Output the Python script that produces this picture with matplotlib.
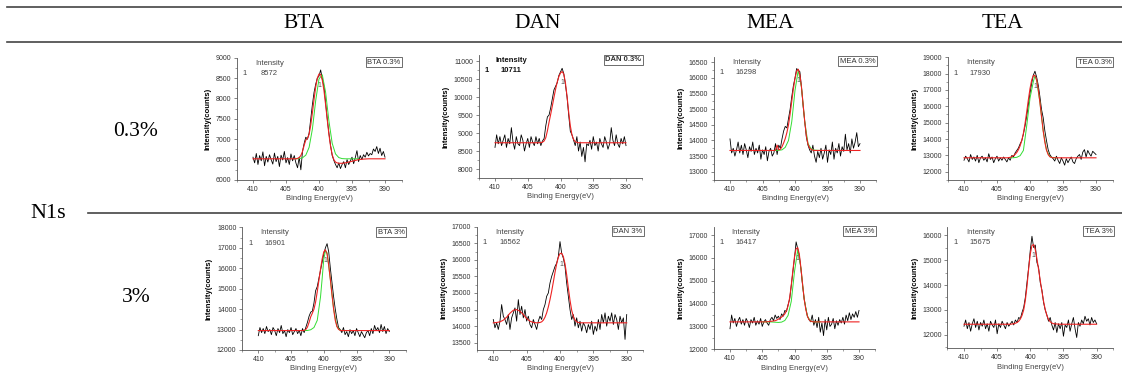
import numpy as np
import matplotlib
matplotlib.use('Agg')
import matplotlib.pyplot as plt
from matplotlib.lines import Line2D
from matplotlib.ticker import MultipleLocator

plt.rcParams['font.family'] = ['Liberation Sans', 'DejaVu Sans']

# table headings
materials = ['BTA', 'DAN', 'MEA', 'TEA']
concentrations = ['0.3%', '3%']
element = 'N1s'
peak_intensity = ['8572', '10711', '16298', '17930', '16901', '16562', '16417', '15675']

# binding energy grids (eV)
raw_x = np.linspace(410, 390, 81)
fit_x = np.concatenate([np.linspace(410, 403.5, 14),
                        np.linspace(403.25, 396.75, 27),
                        np.linspace(396.5, 390, 14)])

# ---- raw counts ----
bta03_raw = [6560, 6420, 6650, 6380, 6600, 6470, 6690, 6350, 6580, 6440, 6620, 6500, 6390, 6660, 6450, 6580, 6330, 6610, 6490, 6700, 6420, 6550, 6380, 6640, 6470,
             6600, 6420, 6300, 6560, 6250, 6700, 6900, 7050, 7000, 7150, 7500, 7850, 8150, 8350, 8500, 8550,
             8700, 8480, 8300, 7900, 7500, 7150, 6850, 6600, 6480, 6380, 6300, 6420, 6280, 6380, 6450, 6300,
             6500, 6380, 6470, 6560, 6400, 6550, 6720, 6450, 6600, 6500, 6620, 6560, 6680, 6590, 6650, 6620, 6760, 6700, 6820, 6650, 6780, 6600, 6700, 6560]
dan03_raw = [8600, 8950, 8700, 8900, 8650, 8800, 8950, 8600, 8850, 8700, 9150, 8750, 8550, 8900, 8700, 8650, 8950, 8800, 8500, 8700, 8850, 8600, 8900, 8750, 8650,
             8900, 8700, 8850, 8650, 8780, 8850, 9200, 9450, 9500, 9700, 9950, 10200, 10300, 10400, 10600, 10700,
             10800, 10650, 10350, 10000, 9500, 9050, 8950, 8800, 8650, 8900, 8500, 8750, 8350, 8600, 8200, 8700,
             8650, 8800, 8550, 8900, 8650, 8750, 8500, 8850, 8700, 8600, 8900, 8750, 8550, 8700, 9150, 8800, 8650, 8950, 8700, 8600, 8850, 8700, 8900, 8650]
mea03_raw = [14050, 13600, 13750, 13500, 13700, 13950, 13600, 13850, 13550, 13900, 13700, 13450, 13800, 13650, 13950, 13550, 13750, 13600, 13850, 13400, 13700, 13550, 13800, 13350, 13650,
             13750, 13500, 13600, 13900, 13550, 13850, 13750, 14050, 14300, 14450, 14400, 14700, 15000, 15400, 15750, 16000,
             16300, 16250, 16200, 15700, 15100, 14600, 14100, 13850, 13700, 13600, 13850, 13500, 13300, 13650, 13450, 13750,
             13400, 13600, 13850, 13300, 13700, 13550, 13950, 13400, 13750, 13600, 13900, 13500, 13800, 13650, 14200, 13700, 13900, 13600, 14050, 13750, 13950, 14250, 13800, 13900]
tea03_raw = [12700, 12950, 12800, 12600, 13050, 12750, 12900, 12650, 13000, 12550, 12850, 12950, 12700, 12850, 12600, 13100, 12750, 12900, 12550, 12800, 12950, 12650, 12850, 12700, 12900,
             12750, 12600, 12850, 12700, 13000, 12900, 13150, 13300, 13450, 13700, 13900, 14300, 14800, 15400, 16100, 16800,
             17400, 17900, 18150, 17800, 17300, 16600, 15800, 15300, 14500, 13900, 13350, 13050, 12900, 12800, 12650, 12950,
             12700, 12500, 12850, 12650, 12400, 12800, 12550, 12750, 12900, 12600, 12500, 12800, 12950, 13050, 12750, 13200, 13350, 12900, 13300, 13100, 12950, 13250, 13150, 13050]
bta3_raw = [12700, 13100, 12850, 13050, 12800, 13150, 12900, 13000, 12750, 13100, 12950, 12700, 13050, 12850, 13200, 12800, 12950, 12650, 13000, 12850, 13100, 12750, 12900, 13050, 12800,
            12950, 12700, 13050, 12850, 13100, 13350, 13650, 13850, 13900, 14300, 14900, 15100, 15500, 15900, 16300, 16700,
            17000, 17200, 16800, 16000, 15300, 14600, 14000, 13500, 13100, 13000, 12850, 13100, 12750, 12900, 12650, 13000,
            12800, 12950, 12700, 13050, 12850, 12650, 12900, 12750, 12600, 12850, 12950, 12700, 13050, 12800, 13200, 12950, 13100, 12850, 13250, 12900, 13150, 12800, 13050, 12900]
dan3_raw = [14200, 13950, 14100, 13900, 14150, 14650, 14300, 14200, 14050, 14350, 13900, 14250, 14400, 14550, 14150, 14800, 14350, 14600, 14250, 14500, 14150, 14300, 14050, 13950, 14200,
            14050, 13900, 14150, 14300, 14200, 14500, 14650, 14900, 15000, 15300, 15500, 15650, 15800, 15900, 16100, 16550,
            16200, 16050, 15800, 15300, 14900, 14500, 14200, 14350, 14000, 14250, 13950, 14150, 13850, 14100, 14000, 13800,
            14050, 13900, 14150, 13750, 14000, 13850, 14200, 13900, 14350, 14100, 14400, 14000, 14300, 14150, 14400, 14050, 14350, 14200, 13900, 14300, 14100, 14250, 13600, 14350]
mea3_raw = [12900, 13500, 13150, 13350, 13000, 13250, 13400, 13100, 13300, 13050, 13350, 13200, 12950, 13300, 13150, 13400, 13050, 13250, 13100, 13350, 13000, 13200, 13300, 13150, 13050,
            13300, 13400, 13250, 13500, 13350, 13450, 13300, 13550, 13450, 13700, 13650, 13950, 14200, 14800, 15400, 16000,
            16700, 16400, 16100, 15500, 14800, 14200, 13800, 13450, 13300, 13200, 13500, 13050, 13300, 12950, 13400, 12750,
            13150, 12600, 13300, 12850, 13400, 13000, 13100, 13350, 12900, 13250, 13050, 13300, 13150, 13400, 13100, 13500, 13250, 13600, 13300, 13550, 13400, 13650, 13400, 13700]
tea3_raw = [12350, 12600, 12250, 12500, 12150, 12450, 12650, 12300, 12550, 12200, 12500, 12350, 12600, 12250, 12450, 12150, 12550, 12400, 12300, 12600, 12050, 12450, 12300, 12550, 12400,
            12250, 12500, 12350, 12450, 12550, 12400, 12600, 12500, 12700, 12650, 12900, 13100, 13500, 14100, 14700, 15400,
            15950, 15500, 15600, 14900, 14700, 14100, 13800, 13300, 13000, 12800, 12550, 12700, 12400, 12200, 12500, 12100,
            12450, 12250, 12500, 11950, 12400, 12300, 12600, 12150, 12450, 12700, 12250, 11900, 12500, 12350, 12600, 12450, 12750, 12550, 12650, 12400, 12700, 12500, 12600, 12450]

# ---- cumulative fit (red), on fit_x ----
bta03_fit = [6520] * 14 + [6530, 6550, 6600, 6700, 6850, 6980, 7020, 7120, 7350, 7650, 7980, 8280, 8500, 8600, 8590, 8450, 8200, 7850, 7480, 7120, 6830, 6620, 6500, 6440, 6420, 6410, 6410] + \
            [6410, 6420, 6440, 6460, 6480, 6500, 6510, 6515, 6520, 6520, 6520, 6520, 6520, 6520]
dan03_fit = [8730] * 14 + [8730, 8735, 8745, 8780, 8870, 9060, 9300, 9520, 9750, 9990, 10220, 10420, 10570, 10670, 10710, 10640, 10400, 10020, 9580, 9200, 8950, 8820, 8760, 8740, 8730, 8730, 8730] + [8730] * 14
mea03_fit = [13680] * 14 + [13680, 13690, 13850, 13700, 13720, 13800, 13920, 14060, 14250, 14500, 14850, 15250, 15650, 15980, 16220, 16280, 16100, 15700, 15150, 14600, 14150, 13880, 13760, 13710, 13690, 13680, 13680] + [13680] * 14
tea03_fit = [12850] * 14 + [12860, 12880, 12920, 12980, 13060, 13180, 13350, 13580, 13900, 14350, 14950, 15650, 16400, 17080, 17600, 17880, 17900, 17620, 17050, 16250, 15350, 14500, 13800, 13320, 13050, 12920, 12870] + [12855] + [12850] * 13
bta3_fit = [12950] * 14 + [12950, 12960, 13000, 13120, 13350, 13620, 13800, 14000, 14350, 14850, 15400, 15950, 16450, 16800, 16900, 16700, 16150, 15450, 14700, 14000, 13450, 13150, 13010, 12960, 12950, 12950, 12950] + [12950] * 14
dan3_fit = [14100, 14110, 14130, 14180, 14270, 14390, 14480, 14500, 14450, 14350, 14230, 14150, 14110, 14100] + \
           [14105, 14110, 14130, 14180, 14270, 14400, 14580, 14800, 15050, 15330, 15620, 15880, 16080, 16190, 16200, 16100, 15880, 15550, 15150, 14780, 14480, 14290, 14180, 14130, 14110, 14100, 14100] + [14100] * 14
mea3_fit = [13200] * 12 + [13210, 13230] + [13240, 13250, 13280, 13320, 13360, 13410, 13470, 13550, 13680, 13900, 14250, 14800, 15450, 16050, 16400, 16450, 16150, 15550, 14850, 14200, 13750, 13450, 13300, 13230, 13210, 13200, 13200] + [13200] * 14
tea3_fit = [12430] * 14 + [12430, 12430, 12440, 12450, 12470, 12500, 12550, 12640, 12780, 13000, 13380, 13950, 14650, 15250, 15580, 15620, 15420, 15050, 14620, 14180, 13750, 13350, 13020, 12780, 12620, 12530, 12480] + [12450, 12440] + [12430] * 12

# ---- single N1s component (green), where it shows ----
bta03_comp_x = [403.5, 403, 402.5, 402, 401.5, 401, 400.5, 400, 399.5, 399, 398.5, 398, 397.5, 397, 396.5, 396, 395, 394]
bta03_comp = [6520, 6525, 6545, 6610, 6800, 7250, 7950, 8480, 8580, 8150, 7450, 6900, 6640, 6550, 6525, 6520, 6520, 6520]
mea03_comp_x = [403.5, 403, 402.5, 402, 401.5, 401, 400.5, 400, 399.5, 399, 398.5, 398, 397.5, 397, 396]
mea03_comp = [13680, 13680, 13685, 13700, 13780, 14000, 14600, 15600, 16250, 15700, 14600, 13900, 13730, 13690, 13680]
tea03_comp_x = [403, 402.5, 402, 401.5, 401, 400.5, 400, 399.5, 399.25, 399, 398.5, 398, 397.5, 397, 396.5, 396]
tea03_comp = [12850, 12855, 12880, 12980, 13300, 14800, 16500, 17500, 17880, 17600, 16250, 14500, 13320, 12920, 12860, 12850]
bta3_comp_x = [403, 402.5, 402, 401.5, 401, 400.5, 400.25, 400, 399.75, 399.5, 399, 398.5, 398, 397.5, 397, 396]
bta3_comp = [12950, 12955, 12990, 13100, 13450, 14600, 15500, 16450, 16850, 16750, 15450, 14000, 13150, 12960, 12950, 12950]
mea3_comp_x = [405, 404, 403.5, 403, 402.5, 402, 401.5, 401, 400.5, 400, 399.5, 399, 398.5, 398, 397.5, 397, 396]
mea3_comp = [13200, 13200, 13195, 13185, 13175, 13190, 13260, 13480, 14100, 15400, 16350, 15550, 14200, 13450, 13230, 13200, 13200]

raws = [bta03_raw, dan03_raw, mea03_raw, tea03_raw, bta3_raw, dan3_raw, mea3_raw, tea3_raw]
fits = [bta03_fit, dan03_fit, mea03_fit, tea03_fit, bta3_fit, dan3_fit, mea3_fit, tea3_fit]
comps = [(bta03_comp_x, bta03_comp), None, (mea03_comp_x, mea03_comp), (tea03_comp_x, tea03_comp),
         (bta3_comp_x, bta3_comp), None, (mea3_comp_x, mea3_comp), None]
y_ranges = [(6000, 9000), (7750, 11170), (12735, 16680), (11492, 19000),
            (12000, 18000), (13280, 17000), (12000, 17365), (11467, 16333)]
y_steps = [500, 500, 500, 1000, 1000, 500, 1000, 1000]
y_first = [6000, 8000, 13000, 12000, 12000, 13500, 12000, 12000]

# layout in pixels: x of the 410 tick, px per eV, bottom and top of y-axis
layout = [(253, 6.6, 180, 57.7), (495, 6.55, 178, 55), (730, 6.5, 180, 56.7), (964, 6.6, 180, 57.3),
          (258.3, 6.55, 350, 227.3), (493.3, 6.67, 350, 226.7), (730, 6.45, 349.3, 226.7), (964, 6.63, 348.3, 226.7)]

W, H = 1122, 380
fig = plt.figure(figsize=(W / 100, H / 100), dpi=100)

# table rules
for x0, y in [(7, 7), (7, 42), (88, 212.7)]:
    fig.add_artist(Line2D([x0 / W, 1], [1 - y / H] * 2, transform=fig.transFigure, color='#444', lw=1.2))

serif = ['Liberation Serif', 'DejaVu Serif']
for name, xc in zip(materials, [304, 538, 770, 1003]):
    fig.text(xc / W, 1 - 23 / H, name, fontsize=15.5, family=serif, ha='center', va='center')
for lab, yc in zip(concentrations, [131, 297]):
    fig.text(136 / W, 1 - yc / H, lab, fontsize=15.5, family=serif, ha='center', va='center')
fig.text(48 / W, 1 - 214 / H, element, fontsize=16, family=serif, ha='center', va='center')

for i in range(8):
    x410, ppe, yb, yt = layout[i]
    left = x410 - 2.5 * ppe
    ax = fig.add_axes([left / W, 1 - yb / H, 25 * ppe / W, (yb - yt) / H])
    ax.plot(raw_x, raws[i], color='black', lw=0.6)
    if comps[i] is not None:
        ax.plot(comps[i][0], comps[i][1], color='#33dd33', lw=0.7)
    ax.plot(fit_x, fits[i], color='#ee2222', lw=0.8)
    ax.set_xlim(412.5, 387.5)
    ax.set_ylim(*y_ranges[i])
    ax.set_xticks([410, 405, 400, 395, 390])
    ax.xaxis.set_minor_locator(MultipleLocator(2.5))
    yt_vals = np.arange(y_first[i], y_ranges[i][1] + 1, y_steps[i])
    ax.set_yticks(yt_vals)
    ax.yaxis.set_minor_locator(MultipleLocator(y_steps[i] / 2))
    for s in ['top', 'right']:
        ax.spines[s].set_visible(False)
    for s in ['left', 'bottom']:
        ax.spines[s].set_color('#555')
        ax.spines[s].set_linewidth(0.6)
    ax.tick_params(which='major', direction='out', length=2.5, width=0.5, color='#555',
                   labelsize=5, labelcolor='#333', pad=1.5)
    ax.tick_params(which='minor', direction='out', length=1.5, width=0.4, color='#555')
    ax.set_xlabel('Binding Energy(eV)', fontsize=5.5, color='#444', labelpad=2)
    ax.set_ylabel('Intensity(counts)', fontsize=5.5, fontweight='bold', labelpad=3)
    ax.patch.set_alpha(0)

    bold = 'bold' if i == 1 else 'normal'
    tc = '#111' if i == 1 else '#444'
    ax.text(0.2, 0.955, 'Intensity', transform=ax.transAxes, fontsize=5.5, color=tc, fontweight=bold, ha='center', va='center')
    ax.text(0.05, 0.87, '1', transform=ax.transAxes, fontsize=5.5, color=tc, fontweight=bold, ha='center', va='center')
    ax.text(0.2, 0.87, peak_intensity[i], transform=ax.transAxes, fontsize=5.5, color=tc, fontweight=bold, ha='center', va='center')
    box_name = materials[i % 4] + ' ' + concentrations[i // 4]
    ax.text(0.995, 0.99, box_name, transform=ax.transAxes, fontsize=5.5, color='#333', fontweight=bold,
            ha='right', va='top', bbox=dict(boxstyle='square,pad=0.2', fc='white', ec='#555', lw=0.6))
    k = int(np.argmax(fits[i]))
    ax.annotate('1', xy=(fit_x[k], fits[i][k]), xytext=(0, -9), textcoords='offset points',
                ha='center', fontsize=5, color='#555')

fig.savefig('out.png', dpi=100)
